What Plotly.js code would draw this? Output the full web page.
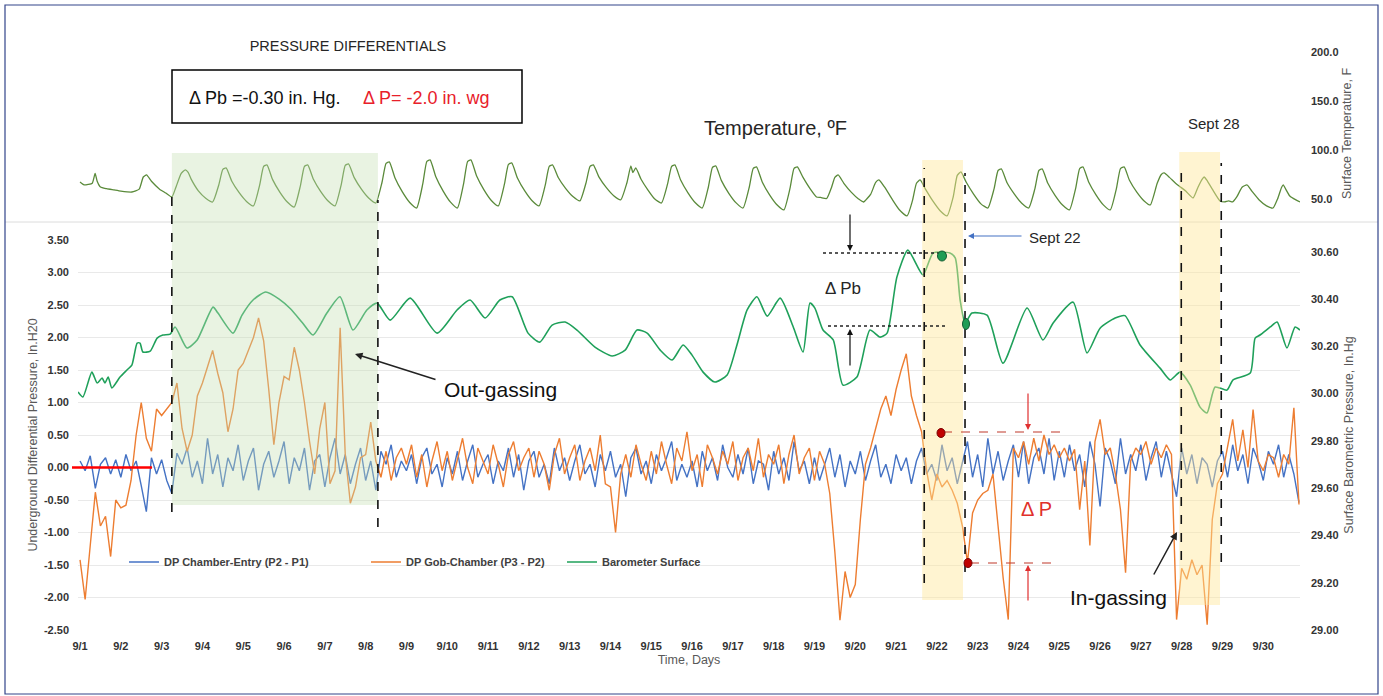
<!DOCTYPE html>
<html><head><meta charset="utf-8">
<script src="https://cdn.plot.ly/plotly-3.0.1.min.js"></script>
<style>html,body{margin:0;padding:0;background:#fff;}#chart{width:1383px;height:696px;}</style>
</head><body><div id="chart"></div>
<script>
// ---------- DATA ----------
const dayLabels = ["9/1","9/2","9/3","9/4","9/5","9/6","9/7","9/8","9/9","9/10","9/11","9/12","9/13","9/14","9/15",
  "9/16","9/17","9/18","9/19","9/20","9/21","9/22","9/23","9/24","9/25","9/26","9/27","9/28","9/29","9/30"];
const dpTickVals = [-2.5,-2.0,-1.5,-1.0,-0.5,0,0.5,1.0,1.5,2.0,2.5,3.0,3.5];
const dpTickText = ["-2.50","-2.00","-1.50","-1.00","-0.50","0.00","0.50","1.00","1.50","2.00","2.50","3.00","3.50"];
const baroTickVals = [29.0,29.2,29.4,29.6,29.8,30.0,30.2,30.4,30.6];
const baroTickText = ["29.00","29.20","29.40","29.60","29.80","30.00","30.20","30.40","30.60"];
const tempTickVals = [50,100,150,200];
const tempTickText = ["50.0","100.0","150.0","200.0"];

// Surface temperature (days since 9/1 00:00, deg F)
const tempDay = [0,0.1,0.2,0.3,0.37,0.42,0.5,0.65,0.83,1.0,1.27,1.45,1.55,1.63,1.75,1.95,2.1,2.25,2.35,2.48,2.58,2.65,2.72,2.9,3.08,3.25,
 3.4,3.5,3.58,3.72,3.9,4.08,4.25,
 4.4,4.5,4.58,4.72,4.9,5.08,5.25,
 5.4,5.5,5.58,5.72,5.9,6.08,6.25,
 6.4,6.5,6.58,6.72,6.9,7.08,7.25,
 7.4,7.5,7.58,7.72,7.9,8.08,8.25,
 8.4,8.5,8.58,8.72,8.9,9.08,9.25,
 9.4,9.5,9.58,9.72,9.9,10.08,10.25,
 10.4,10.5,10.58,10.72,10.9,11.08,11.25,
 11.4,11.5,11.58,11.72,11.9,12.08,12.25,
 12.4,12.5,12.58,12.72,12.9,13.08,13.25,
 13.4,13.5,13.55,13.62,13.75,13.92,14.08,14.25,
 14.4,14.5,14.58,14.72,14.9,15.08,15.25,
 15.4,15.5,15.58,15.72,15.9,16.08,16.25,
 16.4,16.5,16.58,16.72,16.9,17.08,17.25,
 17.4,17.5,17.58,17.72,17.9,18.05,18.15,18.3,
 18.42,18.5,18.58,18.72,18.9,19.08,19.2,
 19.38,19.5,19.58,19.72,19.9,20.08,20.27,
 20.4,20.5,20.59,20.72,20.9,21.08,21.25,
 21.4,21.5,21.59,21.72,21.9,22.08,22.25,
 22.4,22.5,22.58,22.72,22.9,23.08,23.25,
 23.4,23.5,23.58,23.72,23.9,24.08,24.25,
 24.4,24.5,24.58,24.72,24.9,25.08,25.25,
 25.4,25.5,25.59,25.72,25.9,26.08,26.23,
 26.4,26.5,26.57,26.7,26.85,26.97,27.1,27.28,
 27.4,27.5,27.55,27.62,27.75,27.94,28.05,28.15,28.25,
 28.35,28.48,28.6,28.72,28.9,29.08,29.24,
 29.35,29.45,29.49,29.55,29.65,29.8,29.9];
const tempF = [67.3,64.3,64.8,66,76,68,62.2,60.5,59.2,58,57.1,60,72.4,74.5,68,60,56.1,52,62,76,79.6,77,70.5,58.3,50.8,46.9,
 64.2,80.1,81.6,68.1,56.4,47.5,42.9,
 63.8,83.2,84.7,69.7,56.8,46.9,41.8,
 63.3,83.2,84.7,70.1,57.5,47.9,42.9,
 64.3,84.2,85.7,71.8,59.8,50.7,45.9,
 66.8,86.3,87.8,71.4,57.2,46.4,40.8,
 65.3,88.3,89.8,72.7,58.0,46.7,40.8,
 65.3,88.3,89.8,73.4,59.3,48.5,42.9,
 64.8,85.2,86.7,71.4,58.2,48.2,42.9,
 63.8,83.2,84.7,71.9,60.8,52.4,48.0,
 66.3,83.2,84.7,72.2,61.5,53.3,49.0,
 66.0,83.7,77.0,81.6,70.1,59.0,50.2,45.9,
 65.3,83.2,84.7,69.3,56.2,46.1,40.8,
 62.2,82.2,83.7,68.7,55.8,46.0,40.8,
 61.7,81.2,82.7,67.3,54.2,44.1,38.8,
 60.7,81.2,82.7,72.0,60.0,52.0,51.5,50.5,
 62.0,72.0,74.5,66.0,57.0,50.0,46.9,
 55.0,67.0,69.4,62.0,50.0,39.0,32.7,
 48.0,66.0,69.4,60.0,48.0,38.0,32.7,
 52.0,74.0,77.6,67.0,55.0,45.0,40.8,
 60.0,79.0,80.6,66.5,54.9,45.6,40.8,
 60.0,79.0,80.6,66.0,53.5,43.8,38.8,
 60.5,81.0,82.7,67.3,54.2,44.0,38.8,
 60.5,81.0,82.7,69.0,57.0,48.0,43.9,
 66.0,75.0,76.5,72.0,66.0,62.2,58.0,51.0,
 62.0,70.0,72.4,69.0,60.0,48.0,47.0,48.0,47.0,
 52.0,62.0,64.3,58.0,49.0,43.0,40.8,
 50.0,62.0,64.3,60.0,53.0,49.0,47.0];

// Barometer surface (days, in.Hg)
const baroDay = [-0.05,0.07,0.29,0.42,0.54,0.61,0.69,0.78,0.98,1.15,1.27,1.4,1.47,1.54,1.72,1.89,2.03,2.21,2.33,2.62,2.87,
 3.26,3.38,3.75,3.97,4.24,4.55,4.88,5.15,5.45,5.71,6.05,6.37,6.69,7.03,7.28,7.6,8.09,8.75,9.24,9.56,9.93,10.29,10.59,
 10.98,11.27,11.57,11.89,12.18,12.62,13.04,13.36,13.65,13.9,14.22,14.51,14.78,15.0,15.27,15.56,15.86,16.1,16.35,16.59,
 16.84,17.16,17.48,17.72,17.89,18.01,18.21,18.46,18.7,19.04,19.36,19.61,19.78,20.02,20.29,20.66,20.91,21.32,21.45,21.57,
 21.69,21.86,22.23,22.62,23.21,23.6,23.85,24.34,24.68,25.0,25.37,25.61,25.98,26.47,26.72,26.96,27.21,27.45,27.62,27.82,
 28.11,28.26,28.68,28.8,28.92,29.17,29.34,29.58,29.78,29.9];
const baroInHg = [30.007,29.986,30.091,30.045,30.066,30.045,30.070,30.024,30.070,30.100,30.121,30.214,30.214,30.176,30.180,30.235,30.248,30.252,30.282,30.193,30.227,
 30.366,30.341,30.256,30.332,30.396,30.430,30.400,30.360,30.300,30.248,30.341,30.410,30.269,30.354,30.383,30.311,30.404,30.256,30.354,30.396,30.320,30.396,30.410,
 30.256,30.218,30.290,30.303,30.269,30.197,30.159,30.184,30.269,30.256,30.184,30.142,30.206,30.163,30.091,30.049,30.079,30.206,30.354,30.410,
 30.328,30.404,30.282,30.176,30.383,30.362,30.269,30.227,30.036,30.070,30.269,30.239,30.256,30.493,30.607,30.502,30.595,30.595,30.574,30.396,
 30.299,30.341,30.332,30.129,30.362,30.227,30.299,30.387,30.172,30.277,30.320,30.330,30.206,30.108,30.058,30.091,30.036,29.943,29.918,30.028,
 30.015,30.058,30.087,30.235,30.248,30.282,30.303,30.193,30.282,30.269];

// Differential pressures, in. H2O, one reading every 3 hours from 9/1 00:00
const sampleStepDays = 0.125;
const dpChamberEntry = [
 0.10,-0.05,0.18,-0.32,0.05,0.15,-0.10,0.12,
 -0.15,0.20,-0.05,0.10,-0.28,-0.68,0.15,-0.10,
 0.12,-0.20,-0.40,0.22,0.05,0.30,-0.15,0.10,
 -0.25,0.45,-0.10,0.20,-0.30,0.15,-0.05,0.35,
 -0.20,0.10,0.30,-0.35,0.05,0.25,-0.15,0.10,
 0.40,-0.25,0.15,-0.05,0.30,-0.35,0.10,0.20,
 -0.30,0.15,0.45,-0.10,0.20,-0.25,0.05,0.30,
 -0.20,0.10,-0.35,0.25,0.05,0.35,-0.15,0.10,
 -0.05,0.20,-0.25,0.15,0.30,-0.10,0.05,-0.30,
 0.15,-0.10,0.25,-0.20,0.10,0.35,-0.15,0.05,
 0.20,-0.25,0.10,-0.05,0.30,-0.15,0.20,-0.35,
 0.10,0.25,-0.15,0.05,-0.25,0.30,-0.05,0.15,
 -0.20,0.10,0.35,-0.10,0.05,-0.30,0.20,-0.05,
 0.25,-0.15,0.05,-0.45,0.15,0.30,-0.10,0.10,
 -0.25,0.20,-0.05,0.15,0.40,-0.20,0.05,-0.15,
 0.10,-0.30,0.25,-0.05,0.15,-0.20,0.35,0.00,
 -0.15,0.20,-0.10,0.30,-0.25,0.10,0.05,-0.35,
 0.25,-0.10,0.15,-0.20,0.40,-0.05,0.10,-0.25,
 0.15,-0.20,0.05,0.30,-0.15,0.20,-0.30,0.10,
 -0.10,0.25,-0.20,0.10,0.35,-0.15,0.05,-0.25,
 0.20,-0.05,0.15,-0.25,0.10,0.30,-0.10,0.05,
 -0.20,0.35,-0.05,0.15,-0.25,0.10,0.40,-0.15,
 0.20,-0.30,0.45,-0.10,0.25,-0.20,0.10,0.35,
 -0.15,0.40,-0.25,0.15,0.30,-0.10,0.45,-0.20,
 0.25,-0.15,0.35,-0.05,0.20,-0.30,0.40,0.05,
 -0.60,0.30,0.10,-0.25,0.45,-0.10,0.20,-0.05,
 0.35,-0.20,0.15,0.40,-0.15,0.25,-0.10,-0.45,
 0.30,-0.10,0.20,-0.25,0.15,0.05,-0.30,0.10,
 0.25,-0.15,0.35,-0.05,0.20,-0.25,0.30,0.10,
 -0.20,0.25,0.05,0.35,-0.15,0.20,-0.10,-0.54];
const dpGobChamber = [
 -1.42,-2.03,-1.20,-0.38,-0.90,-0.75,-1.37,-0.50,
 -0.62,-0.58,-0.20,0.50,1.00,0.45,0.25,0.90,
 0.80,0.90,1.00,1.30,0.60,0.25,0.50,1.10,
 1.30,1.55,1.80,1.45,1.15,0.55,0.90,1.50,
 1.60,1.80,2.00,2.30,1.95,1.20,0.35,1.00,
 1.40,1.35,1.85,1.50,1.00,0.40,-0.10,0.60,
 1.00,-0.25,-0.05,2.15,0.20,-0.55,-0.30,0.15,
 0.20,0.70,0.10,-0.15,0.25,-0.20,0.15,0.30,
 0.05,0.35,-0.15,0.20,-0.30,0.10,0.40,-0.05,
 0.25,-0.20,0.15,0.45,0.00,-0.25,0.30,0.10,
 -0.10,0.35,0.05,-0.30,0.20,0.40,-0.05,0.15,
 0.30,-0.15,0.25,0.05,-0.35,0.20,0.45,-0.10,
 0.15,0.35,-0.20,0.10,0.30,-0.05,0.50,-0.25,
 -0.30,-1.00,-0.10,0.20,-0.15,0.35,0.05,-0.20,
 0.25,-0.10,0.40,0.05,-0.25,0.30,0.10,0.55,
 -0.05,0.20,-0.30,0.35,0.15,-0.10,0.25,0.05,
 0.40,-0.20,0.15,0.30,-0.05,0.45,-0.15,0.20,
 0.05,0.35,-0.25,0.20,0.50,-0.10,0.15,0.30,
 -0.20,0.25,0.05,-0.40,-1.30,-2.35,-1.60,-2.00,
 -1.80,-0.80,0.05,0.30,0.60,0.90,1.10,0.80,
 1.20,1.50,1.75,1.10,0.80,0.55,-0.05,-0.50,
 -0.10,-0.30,-0.20,-0.35,-0.55,-0.90,-1.46,-0.70,
 -0.50,-0.40,-0.35,-0.10,-0.90,-1.70,-2.34,0.30,
 0.15,0.40,0.05,0.45,0.10,0.50,0.20,0.35,
 0.15,0.30,0.10,0.28,-0.65,0.10,-1.20,0.40,
 0.74,0.20,0.30,-0.10,-0.65,-1.62,0.10,0.30,
 0.20,0.40,0.05,0.30,0.15,0.35,0.20,-2.34,
 -1.55,-1.72,-1.42,-1.65,-1.50,-2.42,-0.80,-0.25,
 -0.10,0.32,0.74,0.10,0.58,0.00,0.89,0.10,
 -0.05,0.20,0.15,-0.15,0.20,0.05,0.92,-0.57];

// event marks (days)
const outgasStart = 2.25, outgasEnd = 7.30;
const sept22Start = 20.64, sept22End = 21.64;
const sept28Start = 26.94, sept28End = 27.94;

// ---------- LAYOUT ----------
const W = 1383, H = 696, L = 78, R = 1300, T = 45, B = 630;
const px = x => (x - L) / (R - L);
const py = y => (B - y) / (B - T);
const FONT = 'Liberation Sans, Arial, sans-serif';
const dpTime = dpChamberEntry.map((_, i) => i * sampleStepDays);
const tickIdx = dayLabels.map((_, i) => i);

const traces = [
  {x: dpTime, y: dpChamberEntry, type: 'scatter', mode: 'lines', name: 'DP Chamber-Entry (P2 - P1)',
   line: {color: '#4472c4', width: 1.4}, legend: 'legend'},
  {x: dpTime, y: dpGobChamber, type: 'scatter', mode: 'lines', name: 'DP Gob-Chamber (P3 - P2)',
   line: {color: '#ed7d31', width: 1.4}, legend: 'legend2'},
  {x: baroDay, y: baroInHg, type: 'scatter', mode: 'lines', name: 'Barometer Surface', yaxis: 'y2',
   line: {color: '#1fa05a', width: 1.6, shape: 'spline', smoothing: 0.6}, legend: 'legend3'},
  {x: tempDay, y: tempF, type: 'scatter', mode: 'lines', name: 'Surface Temperature', xaxis: 'x2', yaxis: 'y3',
   line: {color: '#5a8a3a', width: 1.3, shape: 'spline', smoothing: 0.5}, showlegend: false}
];

const tickFont = {family: FONT, size: 11, color: '#333333', weight: 'bold'};
const titleFont = {family: FONT, size: 12.5, color: '#595959'};
const legendBase = {orientation: 'h', xanchor: 'left', yanchor: 'middle', bgcolor: 'rgba(0,0,0,0)',
  font: {family: FONT, size: 11, color: '#404040', weight: 'bold'}, itemwidth: 30};

function vline(xd, y0, y1) {
  return {type: 'line', xref: 'x', yref: 'paper', x0: xd, x1: xd, y0: py(y1), y1: py(y0),
          line: {color: '#111', width: 1.6, dash: 'dash'}, layer: 'above'};
}
function hline(x0, x1, y, color, dash, w) {
  return {type: 'line', xref: 'paper', yref: 'paper', x0: px(x0), x1: px(x1), y0: py(y), y1: py(y),
          line: {color: color, width: w || 1.2, dash: dash}, layer: 'above'};
}
function dot(cx, cy, rx, ry, fill, edge) {
  return {type: 'circle', xref: 'paper', yref: 'paper', x0: px(cx - rx), x1: px(cx + rx), y0: py(cy + ry), y1: py(cy - ry),
          fillcolor: fill, line: {color: edge, width: 1}, layer: 'above'};
}
function note(x, y, text, size, color, extra) {
  return Object.assign({xref: 'paper', yref: 'paper', x: px(x), y: py(y), text: text, showarrow: false,
    xanchor: 'center', yanchor: 'middle', font: {family: FONT, size: size, color: color || '#262626'}}, extra || {});
}
function arrow(hx, hy, tx, ty, color, w) {
  return {xref: 'paper', yref: 'paper', x: px(hx), y: py(hy), ax: tx - hx, ay: ty - hy, text: '',
    showarrow: true, arrowhead: 2, arrowsize: 1, arrowwidth: w || 1.3, arrowcolor: color, standoff: 0};
}

const shapes = [
  {type: 'rect', xref: 'x', yref: 'paper', x0: outgasStart, x1: outgasEnd, y0: py(505), y1: py(153),
   fillcolor: 'rgba(197,224,180,0.38)', line: {width: 0}, layer: 'above'},
  {type: 'rect', xref: 'x', yref: 'paper', x0: sept22Start, x1: sept22End, y0: py(600), y1: py(160),
   fillcolor: 'rgba(255,230,153,0.45)', line: {width: 0}, layer: 'above'},
  {type: 'rect', xref: 'x', yref: 'paper', x0: sept28Start, x1: sept28End, y0: py(605), y1: py(152),
   fillcolor: 'rgba(255,230,153,0.45)', line: {width: 0}, layer: 'above'},
  vline(2.25, 188, 512), vline(7.30, 200, 527), vline(20.69, 168, 583), vline(21.69, 173, 572),
  vline(26.99, 165, 560), vline(27.97, 163, 562),
  {type: 'line', xref: 'paper', yref: 'y', x0: px(72), x1: px(152), y0: 0, y1: 0,
   line: {color: '#ff0000', width: 2.5}, layer: 'above'},
  {type: 'line', xref: 'paper', yref: 'paper', x0: px(5), x1: px(1378), y0: py(222), y1: py(222),
   line: {color: '#dcdcdc', width: 1}, layer: 'below'},
  {type: 'rect', xref: 'paper', yref: 'paper', x0: px(5), x1: px(1378), y0: py(694), y1: py(5),
   line: {color: '#33448a', width: 1.2}, layer: 'below'},
  {type: 'rect', xref: 'paper', yref: 'paper', x0: px(172), x1: px(522), y0: py(123), y1: py(70),
   line: {color: '#000', width: 1.5}, layer: 'above'},
  hline(823, 947, 253, '#222', 'dot', 1.3), hline(828, 947, 326, '#222', 'dot', 1.3),
  dot(942, 256, 4.5, 5, '#1f9d55', '#125c32'), dot(966, 324, 3.5, 5.5, '#1f9d55', '#125c32'),
  hline(943, 1063, 432, '#c0392b', 'dash', 1.2), hline(970, 1058, 563, '#c0392b', 'dash', 1.2),
  dot(941, 433, 4, 4.5, '#c00000', '#7a0000'), dot(968, 563, 4, 4.5, '#c00000', '#7a0000')
];

const annotations = [
  note(187, 98, 'Δ Pb =-0.30 in. Hg.', 18, '#111', {xanchor: 'left'}),
  note(361, 98, 'Δ P= -2.0 in. wg', 18, '#e8202a', {xanchor: 'left'}),
  note(775, 128, 'Temperature, ºF', 20, '#262626'),
  note(1214, 124, 'Sept 28', 15, '#262626'),
  note(1027, 237, 'Sept 22', 15, '#262626', {xanchor: 'left'}),
  note(843, 288, 'Δ Pb', 17, '#262626'),
  note(500, 389, 'Out-gassing', 21, '#111'),
  note(1118, 597, 'In-gassing', 21, '#111'),
  note(1036, 509, 'Δ P', 20, '#e0302a'),
  arrow(355, 354, 437, 380, '#222', 1.5),
  arrow(1177, 532, 1153, 576, '#222', 1.5),
  arrow(968, 236, 1023, 236, '#4472c4', 1.2),
  arrow(850, 251, 850, 213, '#111', 1.2),
  arrow(850, 329, 850, 367, '#111', 1.2),
  arrow(1028, 430, 1028, 392, '#e03030', 1.2),
  arrow(1028, 565, 1028, 602, '#e03030', 1.2)
];

const layout = {
  width: W, height: H,
  margin: {l: L, r: W - R, t: T, b: H - B, pad: 0},
  paper_bgcolor: '#ffffff', plot_bgcolor: 'rgba(0,0,0,0)',
  font: {family: FONT, color: '#333'},
  title: {text: 'PRESSURE DIFFERENTIALS', x: 348 / W, xanchor: 'center', y: 1 - 46 / H, yanchor: 'middle',
          font: {family: FONT, size: 14.5, color: '#262626'}},
  showlegend: true,
  legend: Object.assign({}, legendBase, {x: px(124), y: py(562)}),
  legend2: Object.assign({}, legendBase, {x: px(366), y: py(562)}),
  legend3: Object.assign({}, legendBase, {x: px(562), y: py(562)}),
  xaxis: {domain: [0, 1], range: [-0.05, 29.9], anchor: 'y', tickvals: tickIdx, ticktext: dayLabels,
          showgrid: false, zeroline: false, showline: false, ticks: '', tickfont: tickFont, ticklabelstandoff: 8,
          title: {text: 'Time, Days', font: titleFont, standoff: 4}, fixedrange: true},
  yaxis: {domain: [0, py(240)], range: [-2.5, 3.5], anchor: 'x', tickvals: dpTickVals, ticktext: dpTickText,
          showgrid: true, gridcolor: '#e9e9e9', gridwidth: 1, zeroline: false, showline: false, ticks: '',
          tickfont: tickFont, ticklabelstandoff: 8,
          title: {text: 'Underground Differential Pressure, In.H20', font: titleFont, standoff: 3}, fixedrange: true},
  yaxis2: {overlaying: 'y', side: 'right', anchor: 'x', range: [29.0, 30.65], tickvals: baroTickVals, ticktext: baroTickText,
           showgrid: false, zeroline: false, showline: false, ticks: '', tickfont: tickFont, ticklabelstandoff: 10,
           title: {text: 'Surface Barometric Pressure, In.Hg', font: titleFont, standoff: 6}, fixedrange: true},
  xaxis2: {domain: [0, 1], range: [-0.05, 29.9], anchor: 'y3', visible: false, fixedrange: true},
  yaxis3: {domain: [py(222), 1], range: [26.5, 207], anchor: 'x2', side: 'right', tickvals: tempTickVals, ticktext: tempTickText,
           showgrid: false, zeroline: false, showline: false, ticks: '', tickfont: tickFont, ticklabelstandoff: 10,
           title: {text: 'Surface Temperature, F', font: titleFont, standoff: 4}, fixedrange: true},
  shapes: shapes,
  annotations: annotations
};

Plotly.newPlot('chart', traces, layout, {displayModeBar: false, staticPlot: true});
</script>
</body></html>
